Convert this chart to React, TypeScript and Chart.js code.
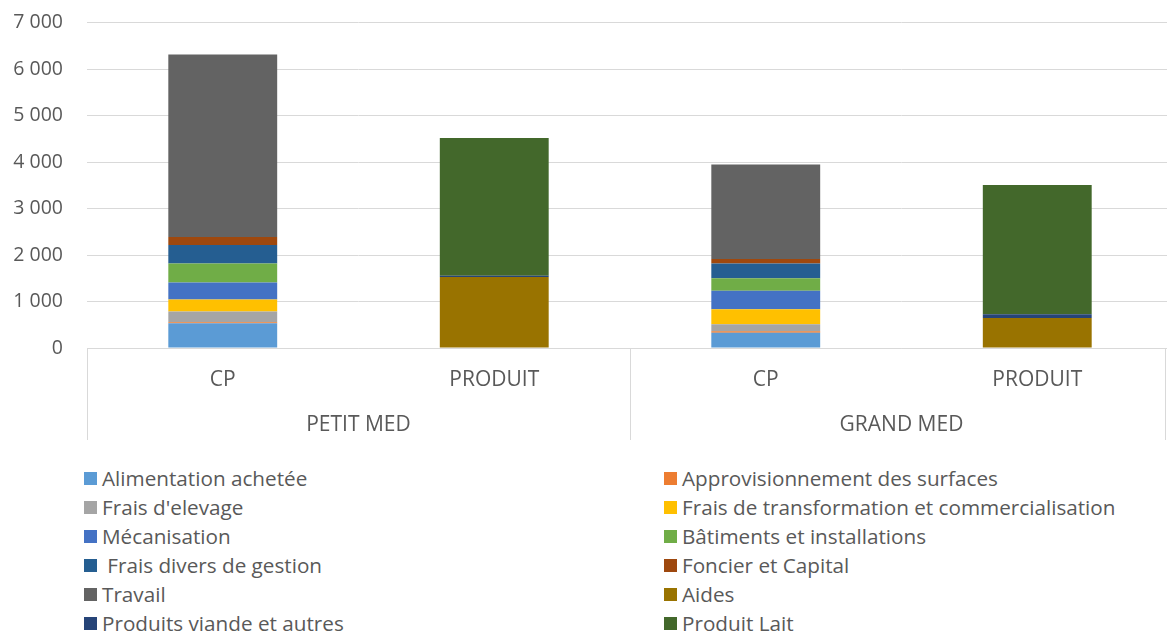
import React, { useEffect, useRef } from "react";
import { Chart, registerables } from "chart.js";

Chart.register(...registerables);

const categories = ["CP", "PRODUIT", "CP", "PRODUIT"];
const groups = ["PETIT MED", "GRAND MED"];
const yTicks = [0, 1000, 2000, 3000, 4000, 5000, 6000, 7000];

const seriesNames = [
  "Alimentation achetée",
  "Approvisionnement des surfaces",
  "Frais d'elevage",
  "Frais de transformation et commercialisation",
  "Mécanisation",
  "Bâtiments et installations",
  " Frais divers de gestion",
  "Foncier et Capital",
  "Travail",
  "Aides",
  "Produits viande et autres",
  "Produit Lait",
];
const seriesColors = [
  "#5B9BD5",
  "#ED7D31",
  "#A5A5A5",
  "#FFC000",
  "#4472C4",
  "#70AD47",
  "#255E91",
  "#9E480E",
  "#636363",
  "#997300",
  "#264478",
  "#43682B",
];

const alimentation = [530, 0, 330, 0];
const approvisionnement = [25, 0, 30, 0];
const fraisElevage = [230, 0, 150, 0];
const transformation = [258, 0, 323, 0];
const mecanisation = [366, 0, 401, 0];
const batiments = [410, 0, 267, 0];
const fraisDivers = [396, 0, 315, 0];
const foncier = [172, 0, 101, 0];
const travail = [3927, 0, 2031, 0];
const aides = [0, 1529, 0, 646];
const produitsViande = [0, 25, 0, 79];
const produitLait = [0, 2963, 0, 2785];

const seriesValues = [
  alimentation,
  approvisionnement,
  fraisElevage,
  transformation,
  mecanisation,
  batiments,
  fraisDivers,
  foncier,
  travail,
  aides,
  produitsViande,
  produitLait,
];

const FONT = "'Open Sans', 'Noto Sans', sans-serif";
const TEXT = "#595959";
const Y_SIZE = 19.5;
const X_SIZE = 21;
const OFFSET = 13;
const CANVAS_W = 1175;

const fmt = (v: number) => String(v).replace(/\B(?=(\d{3})+(?!\d))/g, " ");

const groupPlugin = {
  id: "groupAxis",
  afterDraw(chart: any) {
    const ctx = chart.ctx;
    const x = chart.scales.x;
    const area = chart.chartArea;
    const bottom = area.bottom;
    const left = area.left;
    const right = area.right;
    const mid = (x.getPixelForValue(1) + x.getPixelForValue(2)) / 2;
    const edge = Math.min(right, 1165);
    ctx.save();
    ctx.strokeStyle = "#d9d9d9";
    ctx.lineWidth = 1;
    ctx.beginPath();
    ctx.moveTo(left, bottom + 0.5);
    ctx.lineTo(right, bottom + 0.5);
    [left, mid, edge].forEach((px) => {
      const xx = Math.round(px) + 0.5;
      ctx.moveTo(xx, bottom);
      ctx.lineTo(xx, bottom + 92);
    });
    ctx.stroke();
    ctx.fillStyle = TEXT;
    ctx.font = `${X_SIZE}px ${FONT}`;
    ctx.textAlign = "center";
    ctx.textBaseline = "middle";
    ctx.fillText(groups[0], (left + mid) / 2, bottom + 77);
    ctx.fillText(groups[1], (mid + right) / 2, bottom + 77);
    ctx.restore();
  },
};

export default function App() {
  const ref = useRef<HTMLCanvasElement>(null);
  useEffect(() => {
    if (!ref.current) return;
    const chart = new Chart(ref.current, {
      type: "bar",
      data: {
        labels: categories,
        datasets: seriesNames.map((name, i) => ({
          label: name,
          data: seriesValues[i],
          backgroundColor: seriesColors[i],
          borderWidth: 0,
          categoryPercentage: 1,
          barPercentage: 0.401,
        })),
      },
      options: {
        responsive: false,
        animation: false,
        devicePixelRatio: 1,
        layout: { padding: { top: 11, right: 2, left: 0, bottom: 0 } },
        plugins: { legend: { display: false }, tooltip: { enabled: false } },
        scales: {
          x: {
            stacked: true,
            grid: { display: false, drawTicks: false },
            border: { display: false },
            ticks: {
              color: TEXT,
              font: { family: FONT, size: X_SIZE },
              padding: 19,
              maxRotation: 0,
            },
            afterFit: (s: any) => {
              s.height = 102;
            },
          },
          y: {
            stacked: true,
            min: 0,
            max: 7000,
            grid: { color: "#d9d9d9", lineWidth: 1, drawTicks: false },
            border: { display: false },
            afterBuildTicks: (s: any) => {
              s.ticks = yTicks.map((v) => ({ value: v }));
            },
            ticks: {
              color: TEXT,
              font: { family: FONT, size: Y_SIZE },
              padding: 24,
              callback: (v: any) => fmt(Number(v)),
            },
            afterFit: (s: any) => {
              s.width = 87;
            },
          },
        },
      },
      plugins: [groupPlugin],
    });
    return () => chart.destroy();
  }, []);

  return (
    <div
      style={{
        position: "fixed",
        left: 0,
        top: 0,
        width: 1167,
        height: 635,
        background: "#fff",
        fontFamily: FONT,
        overflow: "hidden",
      }}
    >
      <canvas
        ref={ref}
        width={CANVAS_W}
        height={450 + OFFSET}
        style={{ position: "absolute", left: 0, top: -OFFSET }}
      />
      {seriesNames.map((name, i) => {
        const col = i % 2;
        const row = Math.floor(i / 2);
        return (
          <div
            key={name}
            style={{
              position: "absolute",
              left: col === 0 ? 84 : 664,
              top: 478 + row * 29 - 13,
              height: 26,
              display: "flex",
              alignItems: "center",
              whiteSpace: "pre",
              fontSize: 20.7,
              color: TEXT,
            }}
          >
            <span
              style={{
                display: "inline-block",
                width: 13,
                height: 13,
                background: seriesColors[i],
                marginRight: 5,
              }}
            />
            <span>{name}</span>
          </div>
        );
      })}
    </div>
  );
}
